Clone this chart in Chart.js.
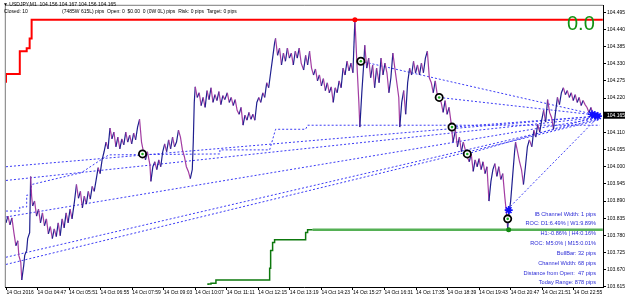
<!DOCTYPE html>
<html><head><meta charset="utf-8">
<style>html,body{margin:0;padding:0;background:#fff}canvas{display:block}</style>
<script src="https://cdn.jsdelivr.net/npm/chart.js@4.4.1/dist/chart.umd.min.js"></script>
</head><body>
<canvas id="c" width="625" height="298"></canvas>
<script>
// ---- axis ticks (time in minutes after midnight, 14 Oct 2016) ----
const xTickMinutes = [224, 287, 351, 415, 479, 543, 607, 671, 735, 799, 863, 927, 991, 1055, 1119, 1183, 1247, 1311, 1375];
const xTickLabels = ['14 Oct 2016','14 Oct 04:47','14 Oct 05:51','14 Oct 06:55','14 Oct 07:59','14 Oct 09:03','14 Oct 10:07','14 Oct 11:11','14 Oct 12:15','14 Oct 13:19','14 Oct 14:23','14 Oct 15:27','14 Oct 16:31','14 Oct 17:35','14 Oct 18:39','14 Oct 19:43','14 Oct 20:47','14 Oct 21:51','14 Oct 22:55'];
const yTickLabels = ['103.615','103.670','103.725','103.780','103.835','103.890','103.945','104.000','104.055','104.110','104.165','104.220','104.275','104.330','104.385','104.440','104.495'];

// ---- USDJPY M1 price path ----
const priceTimes = [223,227,231,235,239,243,247,249,253,255,259,261,265,267,271,273,275,277,281,285,289,293,297,301,305,309,313,317,321,325,329,333,337,341,345,349,353,357,362,366,370,374,378,382,386,390,394,398,402,406,410,414,418,422,426,430,434,438,442,446,450,454,458,462,466,470,474,478,482,486,490,494,498,502,506,510,515,517,521,525,529,533,537,541,545,549,553,557,561,565,569,573,577,581,585,589,593,597,601,603,605,607,611,615,619,623,627,631,635,639,643,647,651,655,659,663,667,672,676,680,684,688,692,696,700,704,708,712,716,720,724,728,732,736,740,744,748,752,756,760,764,768,770,774,778,782,786,790,794,798,802,806,810,814,818,822,827,831,835,839,843,847,851,855,859,863,867,871,875,879,883,887,891,895,899,903,907,911,915,919,923,927,931,935,939,941,945,949,951,955,959,963,967,971,975,980,984,988,992,996,1000,1004,1008,1012,1016,1020,1022,1026,1030,1034,1038,1042,1046,1050,1054,1058,1062,1066,1070,1074,1078,1082,1086,1090,1094,1098,1102,1106,1110,1114,1118,1122,1126,1130,1135,1139,1143,1147,1151,1155,1159,1163,1167,1171,1175,1179,1183,1187,1191,1195,1199,1203,1207,1211,1215,1219,1223,1227,1231,1235,1237,1239,1241,1243,1247,1251,1255,1257,1261,1265,1269,1273,1277,1281,1285,1290,1294,1298,1302,1306,1310,1314,1318,1322,1326,1330,1334,1338,1342,1346,1350,1354,1358,1362,1366,1370,1374,1378,1382,1386,1390,1394,1398,1402,1406,1410,1414,1418,1422];
const priceValues = [103.820,103.842,103.814,103.836,103.789,103.747,103.763,103.716,103.694,103.637,103.684,103.716,103.732,103.770,103.789,103.969,103.906,103.874,103.890,103.842,103.864,103.820,103.852,103.811,103.833,103.785,103.808,103.770,103.801,103.776,103.820,103.779,103.833,103.804,103.852,103.820,103.864,103.833,103.890,103.943,103.899,103.921,103.868,103.906,103.880,103.921,103.896,103.937,103.921,103.959,103.997,103.978,104.022,104.048,104.079,104.057,104.124,104.089,104.111,104.064,104.095,104.057,104.089,104.070,104.111,104.079,104.101,104.073,104.108,104.086,104.127,104.152,104.079,104.048,104.022,104.048,104.007,103.953,104.000,104.016,103.991,104.022,104.000,104.048,104.073,104.048,104.086,104.057,104.095,104.064,104.079,104.117,104.095,104.054,104.032,104.000,103.985,103.962,103.991,104.079,104.206,104.256,104.222,104.237,104.196,104.222,104.190,104.244,104.215,104.253,104.206,104.231,104.212,104.241,104.199,104.228,104.215,104.237,104.206,104.222,104.196,104.215,104.181,104.168,104.190,104.133,104.165,104.149,104.174,104.152,104.168,104.149,104.206,104.222,104.206,104.237,104.222,104.269,104.253,104.301,104.348,104.396,104.411,104.357,104.380,104.326,104.364,104.338,104.380,104.348,104.364,104.326,104.370,104.348,104.380,104.332,104.310,104.357,104.326,104.370,104.316,104.294,104.313,104.275,104.294,104.259,104.282,104.244,104.269,104.237,104.256,104.206,104.253,104.237,104.275,104.253,104.316,104.294,104.338,104.307,104.332,104.301,104.474,104.332,104.206,104.127,104.237,104.332,104.389,104.316,104.348,104.285,104.326,104.253,104.316,104.269,104.348,104.294,104.332,104.301,104.237,104.285,104.364,104.316,104.269,104.222,104.127,104.206,104.244,104.168,104.269,104.316,104.294,104.338,104.301,104.326,104.294,104.332,104.301,104.348,104.370,104.285,104.269,104.237,104.275,104.231,104.222,104.206,104.174,104.212,104.168,104.190,104.143,104.079,104.117,104.064,104.095,104.048,104.079,104.054,104.032,104.016,104.041,103.985,104.022,104.000,104.026,103.991,104.016,103.978,104.000,103.890,103.953,103.991,104.010,103.969,104.000,103.959,103.978,103.906,103.874,103.842,103.801,103.842,103.890,103.969,104.048,104.079,104.048,104.016,103.991,103.943,104.000,104.064,104.086,104.064,104.117,104.095,104.136,104.111,104.149,104.181,104.143,104.215,104.174,104.158,104.120,104.174,104.222,104.199,104.237,104.253,104.231,104.244,104.222,104.237,104.212,104.231,104.206,104.222,104.196,104.212,104.199,104.190,104.174,104.190,104.168,104.155,104.165];

// ---- session high (red) and trailing low (green) ----
const highTimes = [223, 251, 265, 271, 275, 432, 1434];
const highValues = [104.269, 104.297, 104.370, 104.380, 104.411, 104.471, 104.471];
const lowTimes = [633, 639, 649, 657, 758, 760, 764, 768, 770, 831, 835, 845];
const lowValues = [103.621, 103.624, 103.627, 103.637, 103.637, 103.675, 103.732, 103.757, 103.766, 103.766, 103.789, 103.798];
const lowNowTimes = [845, 1434];
const lowNowValues = [103.798, 103.798];

// ---- channel middle (dotted) ----
const midTimes = [223, 251, 251, 265, 265, 273, 275, 376, 422, 432, 657, 657, 758, 770, 831, 835, 1428];
const midValues = [103.858, 103.858, 103.871, 103.871, 103.909, 103.909, 103.943, 103.981, 104.029, 104.038, 104.041, 104.054, 104.054, 104.120, 104.120, 104.133, 104.133];

// ---- trend lines (dotted) ----
const trendStartTimes = [223, 223, 223, 223, 223, 943, 1102, 1128, 1159, 1241];
const trendStartValues = [104.000, 103.956, 103.839, 103.710, 103.687, 104.338, 104.222, 104.127, 104.041, 103.864];
const trendEndTimes = [1424, 1424, 1424, 1424, 1424, 1424, 1424, 1424, 1424, 1424];
const trendEndValues = [104.162, 104.158, 104.155, 104.152, 104.149, 104.165, 104.165, 104.162, 104.162, 104.158];

// ---- markers ----
const pivotTimes = [500, 943, 1102, 1128, 1159, 1241];
const pivotValues = [104.041, 104.338, 104.222, 104.127, 104.041, 103.833];
const highMarkTime = [931], highMarkValue = [104.471];
const lowMarkTime = [1243], lowMarkValue = [103.798];
const signalTimes = [1243, 1412, 1418, 1424];
const signalValues = [103.861, 104.168, 104.165, 104.162];
const currentPrice = 104.165;

// ---- texts ----
const headerSymbol = '\u25BC USDJPY,M1  104.156 104.167 104.156 104.165';
const headerClosed = 'Closed: 10';
const headerPips = '(7485W 615L) pips';
const headerOpen = 'Open: 0  $0.00  0 (0W 0L) pips  Risk: 0 pips  Target: 0 pips';
const infoLines = ['IB Channel Width: 1 pips','ROC: D1:6.49% | W1:9.89%','H1:-0.86% | H4:0.16%','ROC: M5:0% | M15:0.01%','BullBar: 32 pips','Channel Width: 68 pips','Distance from Open:  47 pips','Today Range: 878 pips'];
const profitText = '0.0';

const FONT = '"Liberation Sans", Arial, sans-serif';
const xy = (xs, ys) => xs.map((x, i) => ({x, y: ys[i]}));
const UP = '#1f1f8f', DOWN = '#a23ca2', DOT = '#3b3bf5';

const trendSets = trendStartTimes.map((t, i) => ({
  label: 'trend ' + (i + 1),
  data: [{x: t, y: trendStartValues[i]}, {x: trendEndTimes[i], y: trendEndValues[i]}],
  borderColor: DOT, borderWidth: 1, borderDash: [2, 2], pointRadius: 0, order: 8
}));

const overlay = {
  id: 'overlay',
  afterDraw(chart) {
    const {ctx, chartArea: a, scales: {y}} = chart;
    ctx.save();
    ctx.strokeStyle = '#7a7a7a'; ctx.lineWidth = 1;
    ctx.beginPath();
    ctx.moveTo(a.left - 0.5, a.bottom); ctx.lineTo(a.left - 0.5, a.top - 0.5); ctx.lineTo(a.right, a.top - 0.5);
    ctx.stroke();
    ctx.fillStyle = '#000'; ctx.font = '5px ' + FONT; ctx.textBaseline = 'middle'; ctx.textAlign = 'left';
    ctx.fillText(headerSymbol, 3, 5);
    ctx.fillText(headerClosed, 4, 12);
    ctx.fillText(headerPips, 62, 12);
    ctx.fillText(headerOpen, 107, 12);
    ctx.fillStyle = '#2c2cd6'; ctx.textAlign = 'right'; ctx.font = '5.6px ' + FONT;
    infoLines.forEach((t, i) => ctx.fillText(t, 596, 214 + i * 9.85));
    ctx.fillStyle = '#129212'; ctx.font = '20px ' + FONT; ctx.textAlign = 'left'; ctx.textBaseline = 'alphabetic';
    ctx.fillText(profitText, 567, 30);
    const py = y.getPixelForValue(currentPrice);
    ctx.fillStyle = '#000'; ctx.fillRect(a.right + 1, py - 3.5, chart.width - a.right - 1, 7);
    ctx.fillStyle = '#fff'; ctx.font = '5px ' + FONT; ctx.textBaseline = 'middle';
    ctx.fillText(currentPrice.toFixed(3), a.right + 4, py);
    ctx.restore();
  }
};

new Chart(document.getElementById('c'), {
  type: 'line',
  data: { datasets: [
    { label: 'signal', data: xy(signalTimes, signalValues), showLine: false, pointStyle: 'star', pointRadius: 4, pointBorderColor: '#1010ff', pointBorderWidth: 1.6, order: 0 },
    { label: 'pivot centre', data: xy(pivotTimes, pivotValues), showLine: false, pointRadius: 1.3, pointBorderWidth: 0, pointBackgroundColor: '#1fae1f', order: 1 },
    { label: 'pivot', data: xy(pivotTimes, pivotValues), showLine: false, pointRadius: 3.6, pointBorderWidth: 1.8, pointBorderColor: '#000', pointBackgroundColor: '#fff', order: 2 },
    { label: 'high mark', data: xy(highMarkTime, highMarkValue), showLine: false, pointRadius: 2.5, pointBorderWidth: 0, pointBackgroundColor: '#ff0000', order: 1 },
    { label: 'low mark', data: xy(lowMarkTime, lowMarkValue), showLine: false, pointRadius: 2.5, pointBorderWidth: 0, pointBackgroundColor: '#138a13', order: 1 },
    { label: 'high', data: xy(highTimes, highValues), stepped: 'after', borderColor: '#ff0000', borderWidth: 2, pointRadius: 0, order: 3 },
    { label: 'low', data: xy(lowTimes, lowValues), stepped: 'after', borderColor: '#0d780d', borderWidth: 1.5, pointRadius: 0, order: 3 },
    { label: 'low now', data: xy(lowNowTimes, lowNowValues), borderColor: '#55b055', borderWidth: 2.5, pointRadius: 0, order: 3 },
    { label: 'USDJPY', data: xy(priceTimes, priceValues), borderColor: UP, borderWidth: 1.2, pointRadius: 0,
      segment: { borderColor: c => c.p1.parsed.y >= c.p0.parsed.y ? UP : DOWN }, order: 5 },
    { label: 'mid', data: xy(midTimes, midValues), borderColor: DOT, borderWidth: 1, borderDash: [2, 2], pointRadius: 0, order: 7 },
    ...trendSets
  ]},
  options: {
    responsive: false, animation: false, devicePixelRatio: 1,
    layout: { padding: { left: 1, top: 2, right: 0, bottom: 0 } },
    plugins: { legend: { display: false }, tooltip: { enabled: false } },
    scales: {
      x: { type: 'linear', position: 'bottom', min: 222.6, max: 1434.4,
        afterBuildTicks: s => { s.ticks = xTickMinutes.map(v => ({value: v})); },
        afterFit: s => { s.height = 11; s.paddingLeft = 0; s.paddingRight = 0; },
        ticks: { autoSkip: false, maxRotation: 0, align: 'start', padding: 0, color: '#000', font: {family: FONT, size: 5}, callback: (v, i) => xTickLabels[i] },
        grid: { drawOnChartArea: false, tickLength: 3, color: '#000' },
        border: { display: true, color: '#000', width: 1 } },
      y: { type: 'linear', position: 'right', min: 103.6147, max: 104.5156,
        afterBuildTicks: s => { s.ticks = yTickLabels.map(t => ({value: parseFloat(t)})); },
        afterFit: s => { s.width = 22; s.paddingTop = 0; s.paddingBottom = 0; },
        ticks: { autoSkip: false, padding: 1, color: '#000', font: {family: FONT, size: 5}, callback: (v, i) => yTickLabels[i] },
        grid: { drawOnChartArea: false, tickLength: 3, color: '#000' },
        border: { display: true, color: '#000', width: 1 } }
    }
  },
  plugins: [overlay]
});
</script>
</body></html>
